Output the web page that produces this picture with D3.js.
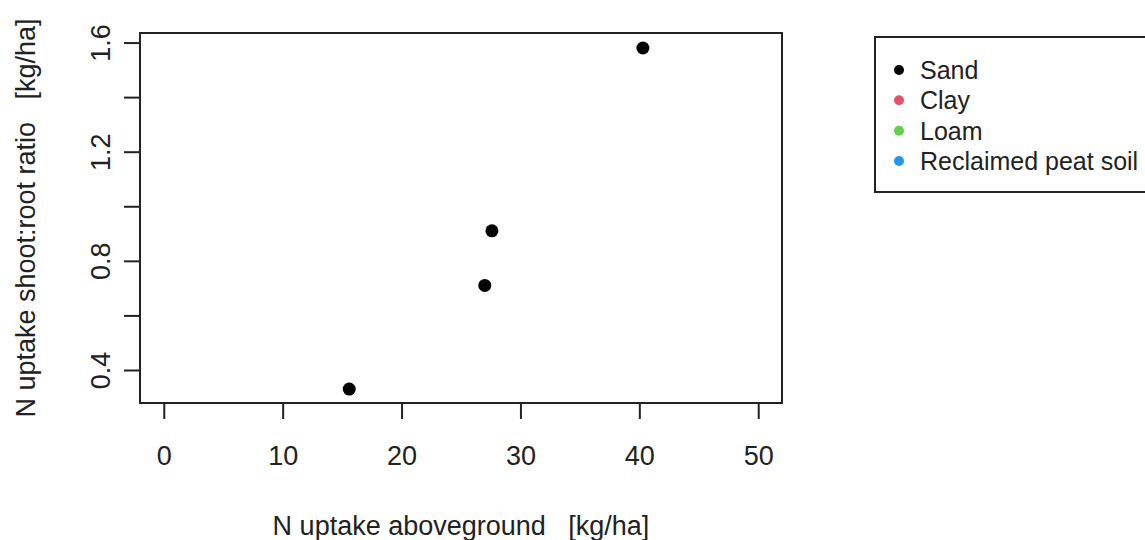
<!DOCTYPE html>
<html>
<head>
<meta charset="utf-8">
<script src="https://cdn.jsdelivr.net/npm/d3@7"></script>
<style>
  html, body { margin: 0; padding: 0; background: #fff; }
  svg { display: block; font-family: "Liberation Sans", Arial, sans-serif; }
</style>
</head>
<body>
<svg id="chart" width="1145" height="540"></svg>
<script>
// N uptake by soil type
const soils = ["Sand", "Clay", "Loam", "Reclaimed peat soil"];
const soilColors = ["#000000", "#DF536B", "#61D04F", "#2297E6"];

// Observations (only Sand has values)
const pointSoil = ["Sand", "Sand", "Sand", "Sand"];
const uptakeAbove = [15.6, 27.0, 27.6, 40.3];
const shootRootRatio = [0.33, 0.71, 0.91, 1.58];

const xTicks = [0, 10, 20, 30, 40, 50];
const yTicks = [0.4, 0.6, 0.8, 1.0, 1.2, 1.4, 1.6];
const yTickLabels = ["0.4", "", "0.8", "", "1.2", "", "1.6"];

const svg = d3.select("#chart");
const box = { left: 140, right: 782, top: 33, bottom: 403 };

// axis limits padded by 4% as in base R plots
const xLim = [0, 50];
const xPad = (xLim[1] - xLim[0]) * 0.04;
const x = d3.scaleLinear().domain([xLim[0] - xPad, xLim[1] + xPad]).range([box.left, box.right]);
const y = d3.scaleLinear().domain([0.279, 1.635]).range([box.bottom, box.top]);

const ink = "#222";
const axisFont = 27;
const legendFont = 25;

// x axis
const xAxis = d3.axisBottom(x).tickValues(xTicks).tickSize(16).tickPadding(0).tickFormat(d3.format("d"));
const gx = svg.append("g").attr("transform", `translate(0,${box.bottom})`).call(xAxis);
gx.select(".domain").remove();
gx.selectAll(".tick line").attr("stroke", ink).attr("stroke-width", 2);
gx.selectAll(".tick text")
  .attr("fill", ink).attr("font-size", axisFont)
  .attr("font-family", "Liberation Sans, Arial, sans-serif")
  .attr("y", 62).attr("dy", null);

// y axis (labels rotated, like R's default las=0)
const yAxis = d3.axisLeft(y).tickValues(yTicks).tickSize(16).tickFormat((d, i) => yTickLabels[i]);
const gy = svg.append("g").attr("transform", `translate(${box.left},0)`).call(yAxis);
gy.select(".domain").remove();
gy.selectAll(".tick line").attr("stroke", ink).attr("stroke-width", 2);
gy.selectAll(".tick text")
  .attr("fill", ink)
  .attr("font-size", axisFont)
  .attr("font-family", "Liberation Sans, Arial, sans-serif")
  .attr("x", null).attr("dy", null)
  .attr("text-anchor", "middle")
  .attr("transform", "translate(-30,0) rotate(-90)");

// plot frame
svg.append("rect")
  .attr("x", box.left).attr("y", box.top)
  .attr("width", box.right - box.left).attr("height", box.bottom - box.top)
  .attr("fill", "none").attr("stroke", ink).attr("stroke-width", 2);

// points
const color = d3.scaleOrdinal().domain(soils).range(soilColors);
svg.append("g").selectAll("circle")
  .data(uptakeAbove.map((v, i) => ({ x: v, y: shootRootRatio[i], soil: pointSoil[i] })))
  .join("circle")
  .attr("cx", d => x(d.x))
  .attr("cy", d => y(d.y))
  .attr("r", 6.5)
  .attr("fill", d => color(d.soil));

// axis titles
svg.append("text")
  .attr("x", 461)
  .attr("y", 535)
  .attr("text-anchor", "middle")
  .attr("font-size", axisFont)
  .attr("fill", ink)
  .attr("xml:space", "preserve")
  .text("N uptake aboveground   [kg/ha]");

svg.append("text")
  .attr("transform", `translate(35,218) rotate(-90)`)
  .attr("text-anchor", "middle")
  .attr("font-size", axisFont)
  .attr("fill", ink)
  .attr("xml:space", "preserve")
  .text("N uptake shoot:root ratio   [kg/ha]");

// legend
const leg = svg.append("g");
leg.append("rect")
  .attr("x", 875).attr("y", 37)
  .attr("width", 300).attr("height", 155)
  .attr("fill", "none").attr("stroke", ink).attr("stroke-width", 2);
const rowY = d3.scalePoint().domain(soils).range([70, 161]);
const rows = leg.selectAll("g.row").data(soils).join("g").attr("class", "row")
  .attr("transform", d => `translate(0,${rowY(d)})`);
rows.append("circle").attr("cx", 899).attr("cy", 0).attr("r", 5).attr("fill", d => color(d));
rows.append("text").attr("x", 920).attr("y", 0).attr("dy", "0.36em")
  .attr("font-size", legendFont).attr("fill", ink).text(d => d);
</script>
</body>
</html>
